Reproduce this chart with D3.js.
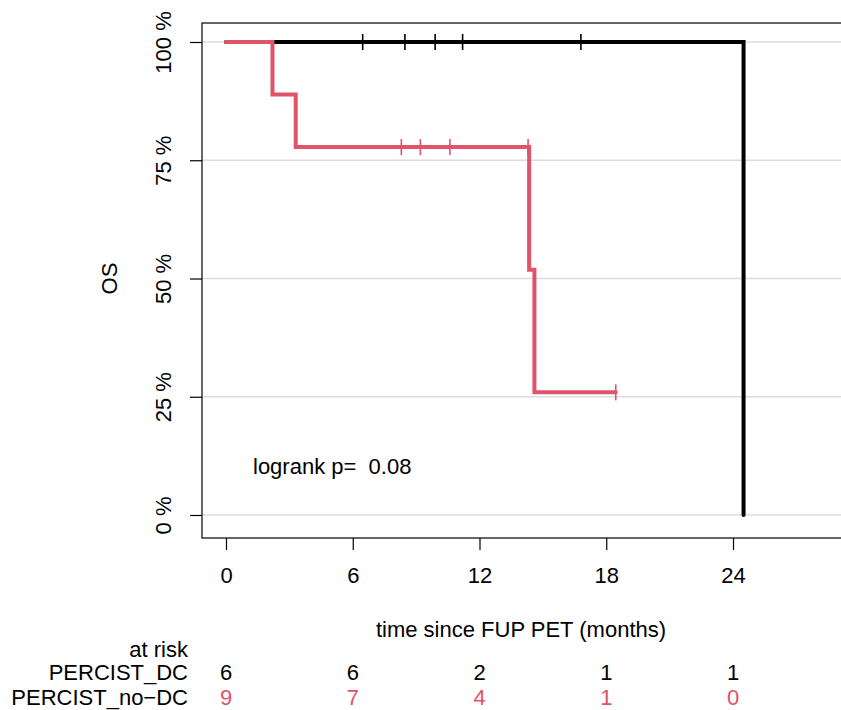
<!DOCTYPE html>
<html>
<head>
<meta charset="utf-8">
<script src="https://cdn.jsdelivr.net/npm/d3@7"></script>
<style>
  body { margin: 0; background: #fff; }
  svg { font-family: "Liberation Sans", Arial, sans-serif; }
</style>
</head>
<body>
<svg width="841" height="710"></svg>
<script>
// step points: [time in months, survival]
var dcSteps = [[0, 1], [24.5, 0]];
var dcCensor = [6.47, 8.47, 9.9, 11.2, 16.8];
var noDcSteps = [[0, 1], [2.2, 8 / 9], [3.3, 7 / 9], [14.35, 0.5185], [14.6, 0.2593], [18.45, 0.2593]];
var noDcCensor = [8.3, 9.2, 10.6, 14.3, 18.45];

var xTicks = [0, 6, 12, 18, 24];
var yTicks = [0, 0.25, 0.5, 0.75, 1];
var yTickLabels = ["0 %", "25 %", "50 %", "75 %", "100 %"];

var groups = ["PERCIST_DC", "PERCIST_no\u2212DC"];
var atRiskDc = [6, 6, 2, 1, 1];
var atRiskNoDc = [9, 7, 4, 1, 0];

var red = "#DF536B";
var fs = 22;

var svg = d3.select("svg");

var x = d3.scaleLinear().domain([0, 24]).range([226, 733]);
var y = d3.scaleLinear().domain([0, 1]).range([515, 42]);

var box = {left: 202, top: 23, bottom: 538, right: 845};

// gridlines
svg.append("g")
  .selectAll("line")
  .data(yTicks)
  .enter().append("line")
  .attr("x1", box.left).attr("x2", box.right)
  .attr("y1", function(d) { return y(d); })
  .attr("y2", function(d) { return y(d); })
  .attr("stroke", "#dcdcdc")
  .attr("stroke-width", 1.5);

// box
svg.append("rect")
  .attr("x", box.left).attr("y", box.top)
  .attr("width", box.right - box.left)
  .attr("height", box.bottom - box.top)
  .attr("fill", "none")
  .attr("stroke", "#000")
  .attr("stroke-width", 1.2);

// y axis
var yAxis = svg.append("g")
  .attr("transform", "translate(" + box.left + ",0)")
  .call(d3.axisLeft(y).tickValues(yTicks).tickSize(12)
    .tickFormat(function(d, i) { return yTickLabels[i]; }));
yAxis.select(".domain").remove();
yAxis.selectAll("line").attr("stroke-width", 1.2);
yAxis.selectAll("text")
  .attr("font-size", fs)
  .attr("font-family", "Liberation Sans, Arial, sans-serif")
  .attr("text-anchor", "middle")
  .attr("x", null).attr("dy", null).attr("y", 0)
  .attr("transform", "translate(-31,0) rotate(-90)");

// x axis
var xAxis = svg.append("g")
  .attr("transform", "translate(0," + box.bottom + ")")
  .call(d3.axisBottom(x).tickValues(xTicks).tickSize(12));
xAxis.select(".domain").remove();
xAxis.selectAll("line").attr("stroke-width", 1.2);
xAxis.selectAll("text")
  .attr("font-size", fs)
  .attr("font-family", "Liberation Sans, Arial, sans-serif")
  .attr("dy", null)
  .attr("y", 45);

// axis titles
svg.append("text")
  .attr("transform", "translate(117," + y(0.5) + ") rotate(-90)")
  .attr("text-anchor", "middle")
  .attr("font-size", fs)
  .text("OS");

svg.append("text")
  .attr("x", 521).attr("y", 637)
  .attr("text-anchor", "middle")
  .attr("font-size", fs)
  .text("time since FUP PET (months)");

// curves
var line = d3.line()
  .curve(d3.curveStepAfter)
  .x(function(d) { return x(d[0]); })
  .y(function(d) { return y(d[1]); });

function survAt(steps, t) {
  var s = steps[0][1];
  steps.forEach(function(p) { if (p[0] <= t) s = p[1]; });
  return s;
}

function drawCurve(steps, censor, color) {
  svg.append("path")
    .datum(steps)
    .attr("d", line)
    .attr("fill", "none")
    .attr("stroke", color)
    .attr("stroke-width", 4)
    .attr("stroke-linecap", "round")
    .attr("stroke-linejoin", "miter");
  svg.append("g")
    .selectAll("line")
    .data(censor)
    .enter().append("line")
    .attr("x1", function(d) { return x(d); })
    .attr("x2", function(d) { return x(d); })
    .attr("y1", function(d) { return y(survAt(steps, d)) - 8; })
    .attr("y2", function(d) { return y(survAt(steps, d)) + 8; })
    .attr("stroke", color)
    .attr("stroke-width", 1.6);
}

drawCurve(dcSteps, dcCensor, "#000");
drawCurve(noDcSteps, noDcCensor, red);

// logrank text
svg.append("text")
  .attr("x", 253).attr("y", 474)
  .attr("font-size", fs)
  .style("white-space", "pre")
  .text("logrank p=  0.08");

// at risk table
svg.append("text")
  .attr("x", 188).attr("y", 657)
  .attr("text-anchor", "end")
  .attr("font-size", fs)
  .text("at risk");

var rows = [
  {name: groups[0], values: atRiskDc, color: "#000", y: 680},
  {name: groups[1], values: atRiskNoDc, color: red, y: 705}
];

rows.forEach(function(r) {
  svg.append("text")
    .attr("x", 188).attr("y", r.y)
    .attr("text-anchor", "end")
    .attr("font-size", fs)
    .text(r.name);
  svg.append("g")
    .selectAll("text")
    .data(r.values)
    .enter().append("text")
    .attr("x", function(d, i) { return x(xTicks[i]); })
    .attr("y", r.y)
    .attr("text-anchor", "middle")
    .attr("font-size", fs)
    .attr("fill", r.color)
    .text(function(d) { return d; });
});
</script>
</body>
</html>
